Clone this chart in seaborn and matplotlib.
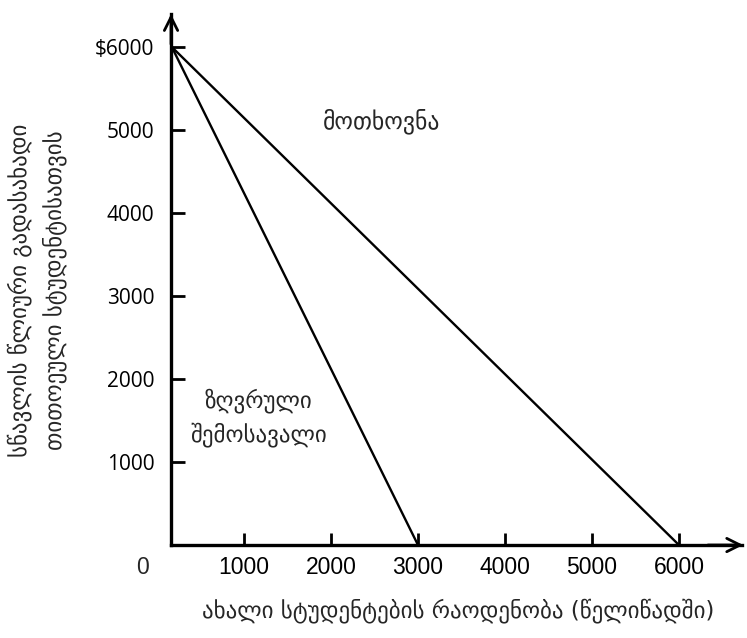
#!/usr/bin/env python3
"""
Zღვრული შემოსავალი vs მოთხოვნა - სწავლის გადასახადი
"""

import matplotlib
matplotlib.use('Agg')
import matplotlib.pyplot as plt
import seaborn as sns
import pandas as pd

sns.set_style('white')
plt.rcParams['font.family'] = ['DejaVu Sans']

# Données
demand_x = [170, 6000]
demand_y = [6000, 0]
mr_x = [170, 3000]
mr_y = [6000, 0]

x_ticks = [1000, 2000, 3000, 4000, 5000, 6000]
x_labels = ['1000', '2000', '3000', '4000', '5000', '6000']
y_ticks = [1000, 2000, 3000, 4000, 5000, 6000]
y_labels = ['1000', '2000', '3000', '4000', '5000', '$6000']

demand_label = 'მოთხოვნა'
mr_label = 'ზღვრული\nშემოსავალი'
x_title = 'ახალი სტუდენტების რაოდენობა (წელიწადში)'
y_title = 'სწავლის წლიური გადასახადი\nთითოეული სტუდენტისათვის'

axis_x0 = 161
tick_font = ['Liberation Sans Narrow', 'Liberation Sans']

fig = plt.figure(figsize=(7.47, 6.38), dpi=100)
ax = fig.add_axes([0, 0, 1, 1])
ax.set_xlim(-1805, 6782)
ax.set_ylim(-1120, 6566)

df = pd.concat([
    pd.DataFrame({'x': demand_x, 'y': demand_y, 'curve': 'demand'}),
    pd.DataFrame({'x': mr_x, 'y': mr_y, 'curve': 'mr'}),
])
sns.lineplot(data=df, x='x', y='y', units='curve', estimator=None,
             color='black', linewidth=1.7, ax=ax, sort=False)

# Axes avec flèches
ax.spines['top'].set_visible(False)
ax.spines['right'].set_visible(False)
ax.spines['left'].set_position(('data', axis_x0))
ax.spines['bottom'].set_position(('data', 0))
ax.spines['left'].set_bounds(0, 6400)
ax.spines['bottom'].set_bounds(axis_x0, 6720)
for s in ['left', 'bottom']:
    ax.spines[s].set_linewidth(2.4)
    ax.spines[s].set_color('black')
ax.annotate('', xy=(axis_x0, 6430), xytext=(axis_x0, 6000),
            arrowprops=dict(arrowstyle='->', lw=2, color='black', mutation_scale=24))
ax.annotate('', xy=(6770, 0), xytext=(6300, 0),
            arrowprops=dict(arrowstyle='->', lw=2, color='black', mutation_scale=24))

ax.set_xticks(x_ticks)
ax.set_xticklabels(x_labels, fontfamily=tick_font, fontsize=16.5)
ax.set_yticks(y_ticks)
ax.set_yticklabels(y_labels, fontfamily='Open Sans', fontsize=15)
ax.tick_params(axis='x', bottom=True, direction='in', length=9, width=2,
               pad=8, colors='black')
ax.tick_params(axis='y', left=True, direction='in', length=10, width=2,
               pad=12, colors='black')
ax.set_xlabel('')
ax.set_ylabel('')
ax.text(-172, -265, '0', ha='center', va='center', fontsize=16.5, fontfamily=tick_font)

ax.text(2586, 5110, demand_label, ha='center', va='center', fontsize=17)
ax.text(1170, 1535, mr_label, ha='center', va='center', fontsize=16.5, linespacing=1.45)

fig.text(0.613, 0.043, x_title, ha='center', va='center', fontsize=16.5)
fig.text(0.049, 0.545, y_title, ha='center', va='center', rotation=90,
         fontsize=16.5, linespacing=1.55)

plt.savefig('out.png', dpi=100)
plt.close()
